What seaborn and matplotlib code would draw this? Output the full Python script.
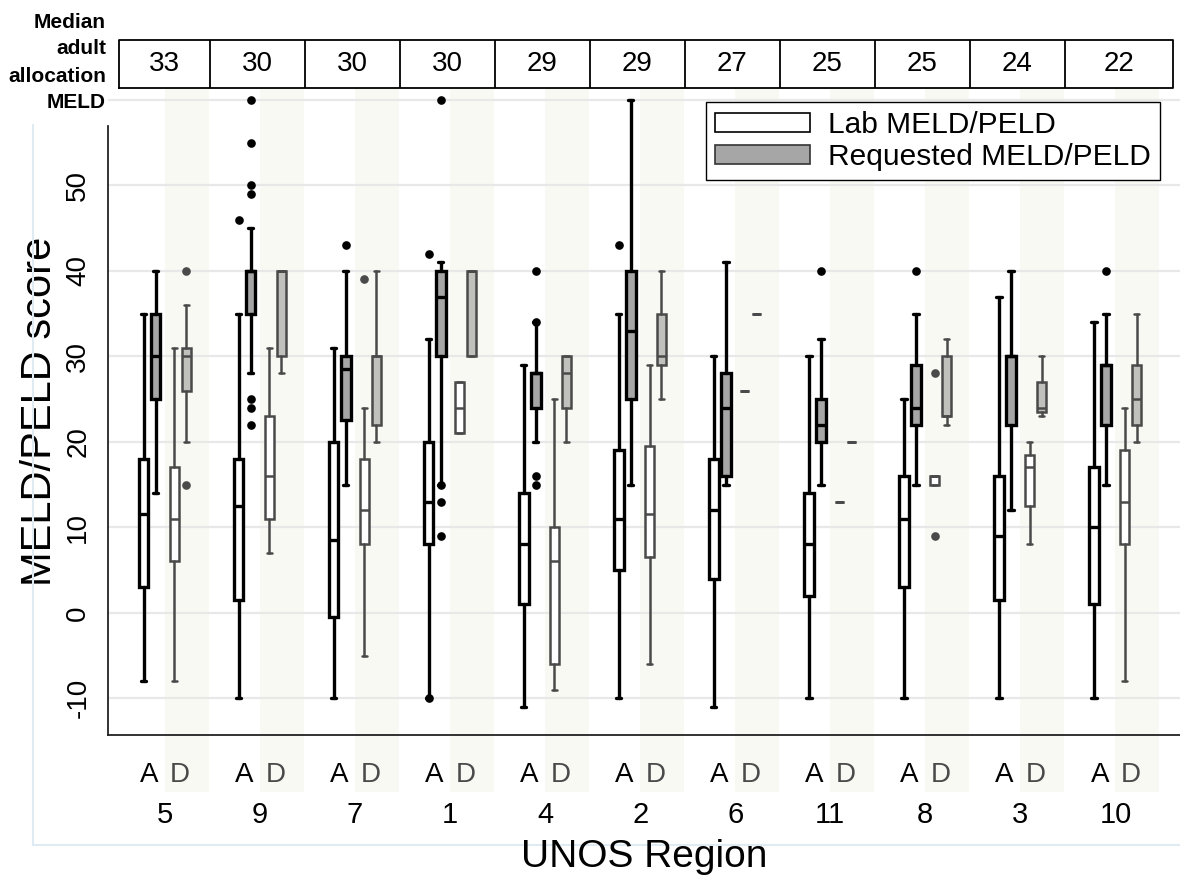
"""UNOS region box plots: lab vs requested MELD/PELD, adult (A) vs donor-side (D)."""

import matplotlib

matplotlib.use('Agg')
import matplotlib.pyplot as plt
import matplotlib.transforms as mtransforms
import numpy as np
import seaborn as sns
from matplotlib.lines import Line2D
from matplotlib.patches import Patch

REGIONS = ['5', '9', '7', '1', '4', '2', '6', '11', '8', '3', '10']
MEDIAN_ALLOC = [33, 30, 30, 30, 29, 29, 27, 25, 25, 24, 22]

# (whisker low, q1, median, q3, whisker high), one tuple per region
LAB_A = [
    (-8, 3, 11.5, 18, 35),
    (-10, 1.5, 12.5, 18, 35),
    (-10, -0.5, 8.5, 20, 31),
    (-10, 8, 13, 20, 32),
    (-11, 1, 8, 14, 29),
    (-10, 5, 11, 19, 35),
    (-11, 4, 12, 18, 30),
    (-10, 2, 8, 14, 30),
    (-10, 3, 11, 16, 25),
    (-10, 1.5, 9, 16, 37),
    (-10, 1, 10, 17, 34),
]
LAB_A_OUT = [[], [46], [], [42, -10], [], [43], [], [], [], [], []]

REQ_A = [
    (14, 25, 30, 35, 40),
    (28, 35, 40, 40, 45),
    (15, 22.5, 28.5, 30, 40),
    (15, 30, 37, 40, 41),
    (20, 24, 28, 28, 34),
    (15, 25, 33, 40, 60),
    (15, 16, 24, 28, 41),
    (15, 20, 22, 25, 32),
    (15, 22, 24, 29, 35),
    (12, 22, 30, 30, 40),
    (15, 22, 29, 29, 35),
]
REQ_A_OUT = [[], [60, 55, 50, 49, 25, 24, 22], [43], [60, 15, 13, 9], [40, 34, 16, 15],
             [], [], [40], [40], [], [40]]

LAB_D = [
    (-8, 6, 11, 17, 31),
    (7, 11, 16, 23, 31),
    (-5, 8, 12, 18, 24),
    (21, 21, 24, 27, 27),
    (-9, -6, 6, 10, 25),
    (-6, 6.5, 11.5, 19.5, 29),
    (26, 26, 26, 26, 26),
    (13, 13, 13, 13, 13),
    (15, 15, 16, 16, 16),
    (8, 12.5, 17, 18.5, 20),
    (-8, 8, 13, 19, 24),
]
LAB_D_OUT = [[], [], [39], [], [], [], [], [], [28, 9], [], []]

REQ_D = [
    (20, 26, 30, 31, 36),
    (28, 30, 40, 40, 40),
    (20, 22, 30, 30, 40),
    (30, 30, 40, 40, 40),
    (20, 24, 28, 30, 30),
    (25, 29, 30, 35, 40),
    (35, 35, 35, 35, 35),
    (20, 20, 20, 20, 20),
    (22, 23, 23, 30, 32),
    (23, 23.5, 24, 27, 30),
    (20, 22, 25, 29, 35),
]
REQ_D_OUT = [[40, 15], [], [], [], [], [], [], [], [], [], []]

Y_TICKS = [-10, 0, 10, 20, 30, 40, 50]
Y_GRID = [-10, 0, 10, 20, 30, 40, 50, 60]

W, H = 1180, 876
BLACK = '#000000'
DGRAY = '#4a4a4a'
FILL_A = '#a6a6a6'
FILL_D = '#c0c0bc'
BAND = '#f9f9f4'
GRID = '#e8e8e8'
FRAME = '#dfeaf2'
FONT = ['Liberation Sans', 'DejaVu Sans']


def fx(px: float) -> float:
    return px / W


def fy(py: float) -> float:
    return 1 - py / H


def stats(rows, outs):
    return [
        {'whislo': r[0], 'q1': r[1], 'med': r[2], 'q3': r[3], 'whishi': r[4], 'fliers': o}
        for r, o in zip(rows, outs, strict=True)
    ]


def draw(ax, rows, outs, offset, line, fill, lw):
    pos = np.arange(len(REGIONS)) + offset
    ax.bxp(
        stats(rows, outs),
        positions=pos,
        widths=0.1,
        capwidths=0.055,
        patch_artist=True,
        manage_ticks=False,
        boxprops={'facecolor': fill, 'edgecolor': line, 'linewidth': lw},
        whiskerprops={'color': line, 'linewidth': lw},
        capprops={'color': line, 'linewidth': lw},
        medianprops={'color': line, 'linewidth': lw},
        flierprops={'marker': 'o', 'markerfacecolor': line, 'markeredgecolor': line,
                    'markersize': 5.2, 'linestyle': 'none'},
        zorder=3,
    )


sns.set_theme(style='white')
plt.rcParams['font.family'] = FONT
plt.rcParams.update({'text.color': BLACK, 'axes.labelcolor': BLACK, 'ytick.color': BLACK})

fig = plt.figure(figsize=(W / 100, H / 100), dpi=100)
ax = fig.add_axes([fx(108), fy(735), fx(1180) - fx(108), (735 - 88) / H])
ax.set_xlim(-0.6, 10.68)
ax.set_ylim(-14.3, 61.4)

# light stripes behind the D pairs, running down behind the A/D labels
for i in range(len(REGIONS)):
    ax.axvspan(i, i + 0.46, ymin=-(792 - 735) / (735 - 88), ymax=1, color=BAND,
               lw=0, zorder=0, clip_on=False)
for y in Y_GRID:
    ax.axhline(y, color=GRID, lw=1.6, zorder=1)

draw(ax, LAB_A, LAB_A_OUT, -0.225, BLACK, 'white', 2.4)
draw(ax, REQ_A, REQ_A_OUT, -0.098, BLACK, FILL_A, 2.4)
draw(ax, LAB_D, LAB_D_OUT, 0.098, DGRAY, 'white', 1.8)
draw(ax, REQ_D, REQ_D_OUT, 0.224, DGRAY, FILL_D, 1.8)

sns.despine(ax=ax, top=True, right=True)
ax.spines['left'].set_bounds(-14.3, 57)
for side in ('left', 'bottom'):
    ax.spines[side].set_color('#222222')
    ax.spines[side].set_linewidth(1.3)
ax.set_xticks([])
ax.set_yticks(Y_TICKS)
ax.set_yticklabels([str(t) for t in Y_TICKS], rotation=90, va='center', fontsize=20)
ax.tick_params(axis='y', direction='out', length=7, width=1.2, color='#222222', pad=5)
ax.set_ylabel('MELD/PELD score', fontsize=30, labelpad=4)

under = mtransforms.blended_transform_factory(ax.transData, fig.transFigure)
for i, reg in enumerate(REGIONS):
    ax.text(i - 0.165, fy(775), 'A', transform=under, ha='center', va='center',
            fontsize=20, color=BLACK)
    ax.text(i + 0.16, fy(775), 'D', transform=under, ha='center', va='center',
            fontsize=20, color=DGRAY)
    ax.text(i, fy(815), reg, transform=under, ha='center', va='center',
            fontsize=21, color=BLACK)
fig.text(fx(644), fy(857), 'UNOS Region', ha='center', va='center', fontsize=28)

# median allocation table above the plot
tab = fig.add_axes([fx(108), fy(88), fx(1180) - fx(108), 48 / H])
tab.set_xlim(ax.get_xlim())
tab.set_ylim(0, 1)
tab.axis('off')
edges = [-0.48] + [i + 0.47 for i in range(len(REGIONS) - 1)] + [10.61]
tab.plot([edges[0], edges[-1], edges[-1], edges[0], edges[0]], [0, 0, 1, 1, 0],
         color=BLACK, lw=1.3, clip_on=False)
for e in edges[1:-1]:
    tab.plot([e, e], [0, 1], color=BLACK, lw=1.3)
for lo, hi, val in zip(edges[:-1], edges[1:], MEDIAN_ALLOC, strict=True):
    tab.text((lo + hi) / 2, 0.5, str(val), ha='center', va='center', fontsize=20)

for py, s in zip([22, 49, 76, 103], ['Median', 'adult', 'allocation', 'MELD'], strict=True):
    fig.text(fx(106), fy(py), s, ha='right', va='center', fontsize=15, fontweight='bold')

handles = [
    Patch(facecolor='white', edgecolor=BLACK, lw=1.2, label='Lab MELD/PELD'),
    Patch(facecolor=FILL_A, edgecolor='#333333', lw=1.2, label='Requested MELD/PELD'),
]
leg = fig.legend(handles=handles, loc='upper right', bbox_to_anchor=(fx(1160), fy(102)),
                 frameon=True, fancybox=False, framealpha=1, edgecolor=BLACK, fontsize=21.5,
                 handlelength=3.2, handleheight=0.6, borderpad=0.3, labelspacing=0.15,
                 handletextpad=0.6, borderaxespad=0)
leg.get_frame().set_linewidth(1.0)

# faint outer frame of the graph region
fig.add_artist(Line2D([fx(33), fx(33)], [fy(125), fy(845)], color=FRAME, lw=1.5))
fig.add_artist(Line2D([fx(33), fx(1180)], [fy(845), fy(845)], color=FRAME, lw=1.5))

fig.savefig('out.png', dpi=100)
